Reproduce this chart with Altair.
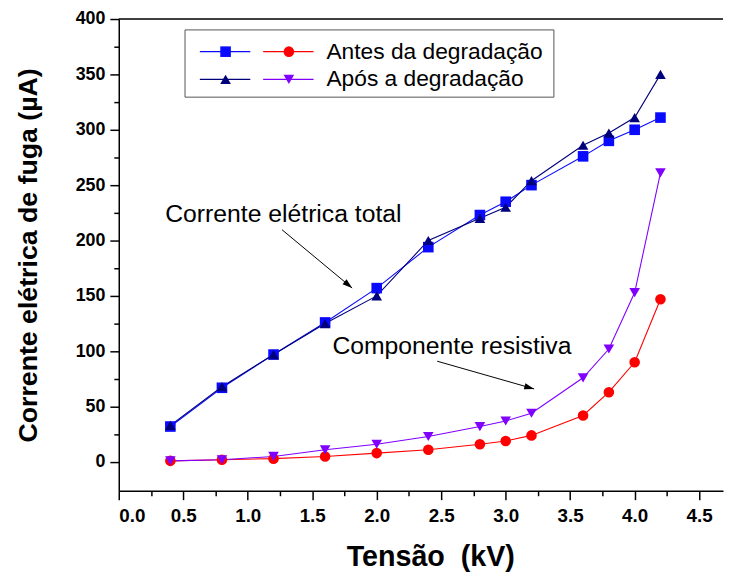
import math
import altair as alt
import pandas as pd

# ---- data ----
voltage = [0.4, 0.8, 1.2, 1.6, 2.0, 2.4, 2.8, 3.0, 3.2, 3.6, 3.8, 4.0, 4.2]
total_before = [32, 67, 97, 126, 157, 194, 223, 235, 250, 276, 290, 300, 311]
total_after = [33, 68, 97, 125, 150, 200, 220, 230, 254, 286, 297, 311, 350]
resistive_before = [1, 2, 3, 5, 8, 11, 16, 19, 24, 42, 63, 90, 147]
resistive_after = [1, 2, 5, 11, 16, 23, 32, 37, 44, 76, 102, 153, 261]

series_names = ["Total antes", "Total após", "Resistiva antes", "Resistiva após"]
series_colors = ["#0a0aff", "#00007a", "#ff0000", "#8000ff"]
series_shapes = ["square", "triangle-up", "circle", "triangle-down"]
legend_labels = ["Antes da degradação", "Após a degradação"]
annotation_labels = ["Corrente elétrica total", "Componente resistiva"]

x_ticks = [i * 0.25 for i in range(19)]
y_ticks = [i * 25 for i in range(17)]

FONT = "Liberation Sans"
W, H = 611, 477

rows = []
for name, vals in zip(series_names, [total_before, total_after, resistive_before, resistive_after]):
    for v, c in zip(voltage, vals):
        rows.append({"Tensão": v, "Corrente": c, "serie": name})
df = pd.DataFrame(rows)

xs = alt.Scale(domain=[0, 4.685], nice=False, zero=False)
ys = alt.Scale(domain=[-26, 400], nice=False, zero=False)
col = alt.Scale(domain=series_names, range=series_colors)
shp = alt.Scale(domain=series_names, range=series_shapes)

x_axis = alt.Axis(
    values=x_ticks,
    labelExpr="datum.value % 0.5 == 0 ? format(datum.value, '.1f') : ''",
    tickSize={"condition": {"test": "datum.value % 0.5 == 0", "value": 9}, "value": 5},
    labelOverlap=False,
    title="Tensão\u00a0 (kV)",
    labelFontSize=19, labelFontWeight="bold", labelFont=FONT, labelColor="black",
    titleFontSize=29, titleFontWeight="bold", titleFont=FONT, titleColor="black",
    titleX=315, titleAnchor="middle",
    labelPadding=7, titlePadding=18,
    domainColor="black", domainWidth=1.5, tickColor="black", tickWidth=1.5,
    grid=False,
)
y_axis = alt.Axis(
    values=y_ticks,
    labelExpr="datum.value % 50 == 0 ? format(datum.value, 'd') : ''",
    tickSize={"condition": {"test": "datum.value % 50 == 0", "value": 9}, "value": 5},
    labelOverlap=False,
    title="Corrente elétrica de fuga (µA)",
    labelFontSize=18, labelFontWeight="bold", labelFont=FONT, labelColor="black",
    titleFontSize=27, titleFontWeight="bold", titleFont=FONT, titleColor="black",
    labelPadding=5, titlePadding=33,
    domainColor="black", domainWidth=1.5, tickColor="black", tickWidth=1.5,
    grid=False,
)

base = alt.Chart(df).encode(
    x=alt.X("Tensão:Q", scale=xs, axis=x_axis),
    y=alt.Y("Corrente:Q", scale=ys, axis=y_axis),
    color=alt.Color("serie:N", scale=col, legend=None),
)
lines = base.mark_line(strokeWidth=1.1).encode(detail="serie:N")
points = base.mark_point(filled=True, size=115, opacity=1).encode(
    shape=alt.Shape("serie:N", scale=shp, legend=None)
)

one = pd.DataFrame({"k": [0]})
layers = [lines, points]

# top frame line
layers.append(alt.Chart(one).mark_rule(color="black", strokeWidth=1.5).encode(
    x=alt.value(0), x2=alt.value(W), y=alt.value(0)))

# annotations: text + arrow
ARROW = "M 0 0 L -1 -0.32 L -1 0.32 Z"
def annotation(label, tx, ty, x0, y0, x1, y1):
    ang = math.degrees(math.atan2(y1 - y0, x1 - x0))
    t = alt.Chart(one).mark_text(align="left", baseline="middle", font=FONT,
                                 fontSize=25, color="black").encode(
        x=alt.value(tx), y=alt.value(ty), text=alt.value(label))
    r = alt.Chart(one).mark_rule(color="black", strokeWidth=1).encode(
        x=alt.value(x0), y=alt.value(y0), x2=alt.value(x1), y2=alt.value(y1))
    h = alt.Chart(one).mark_point(shape=ARROW, filled=True, color="black", size=400,
                                  opacity=1, angle=ang).encode(
        x=alt.value(x1), y=alt.value(y1))
    return [t, r, h]

layers += annotation(annotation_labels[0], 47, 197, 165, 213, 236, 272)
layers += annotation(annotation_labels[1], 216, 331, 322, 346, 420, 374)

# custom legend
layers.append(alt.Chart(one).mark_rect(fill="white", stroke="#555555", strokeWidth=1).encode(
    x=alt.value(67), x2=alt.value(440), y=alt.value(11), y2=alt.value(79)))
legend_rows = [(33, [0, 2], legend_labels[0]), (61, [1, 3], legend_labels[1])]
for ry, idxs, lab in legend_rows:
    for k, i in enumerate(idxs):
        x0 = 82 + k * 64
        layers.append(alt.Chart(one).mark_rule(color=series_colors[i], strokeWidth=1.1).encode(
            x=alt.value(x0), x2=alt.value(x0 + 51), y=alt.value(ry)))
        layers.append(alt.Chart(one).mark_point(shape=series_shapes[i], filled=True, size=115,
                                                opacity=1, color=series_colors[i]).encode(
            x=alt.value(x0 + 26), y=alt.value(ry)))
    layers.append(alt.Chart(one).mark_text(align="left", baseline="middle", font=FONT,
                                           fontSize=23, color="black").encode(
        x=alt.value(210), y=alt.value(ry), text=alt.value(lab)))

chart = alt.layer(*layers).properties(
    width=W, height=H,
    autosize=alt.AutoSizeParams(type="none"),
    padding={"left": 112, "top": 8, "right": 1, "bottom": 80},
).configure_view(stroke=None)

chart.save("out.html", embed_options={"renderer": "svg", "actions": False})
